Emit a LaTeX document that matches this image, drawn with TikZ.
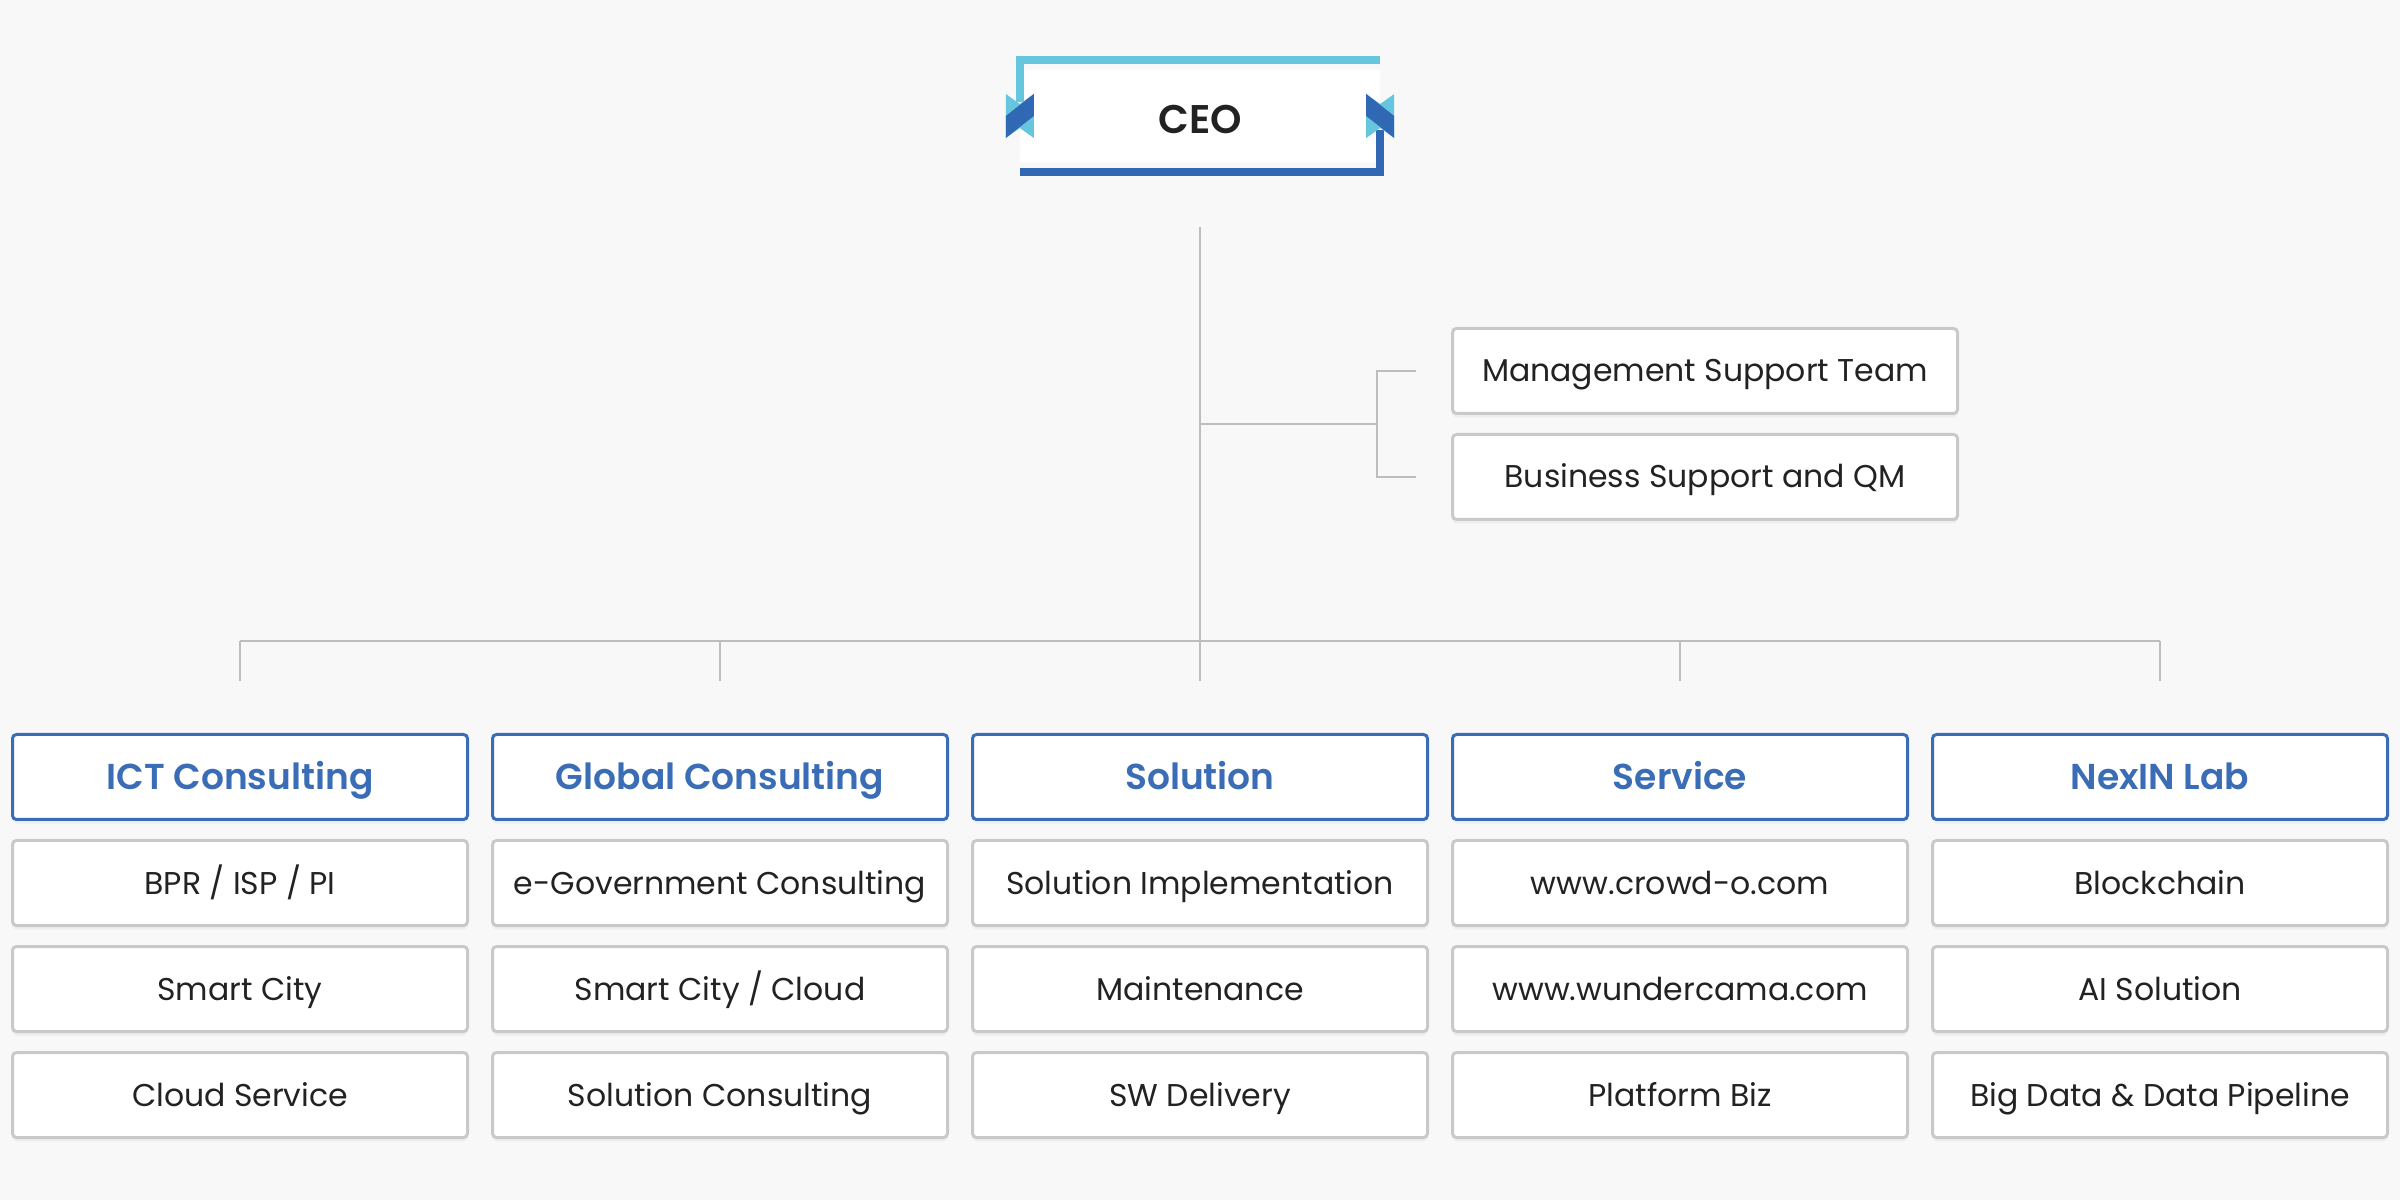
\documentclass[tikz,border=0pt]{standalone}
\usepackage{fontspec}
\setmainfont{Poppins}[BoldFont={* SemiBold}]
\usepackage{tikz}
\usetikzlibrary{positioning,calc,shadows}
\definecolor{bgcol}{HTML}{F8F8F8}
\definecolor{ceocyan}{HTML}{66C6DE}
\definecolor{ceoblue}{HTML}{3068B4}
\definecolor{deptblue}{HTML}{3A6DB5}
\definecolor{linegray}{HTML}{BDBDBD}
\definecolor{boxgray}{HTML}{C9C9C9}
\definecolor{txt}{HTML}{222222}

\begin{document}
\begin{tikzpicture}[
    x=1pt, y=1pt,
    node distance=18pt,
    ceobox/.style={fill=white, minimum width=360pt, minimum height=92pt, inner sep=0pt, text height=36pt, text depth=0pt, font=\fontsize{40}{46}\selectfont\bfseries, text=txt},
    dept/.style={draw=deptblue, fill=white, line width=3pt, rounded corners=4pt, minimum width=455pt, minimum height=85pt, inner sep=0pt, text height=25pt, text depth=0pt, font=\fontsize{36}{42}\selectfont\bfseries, text=deptblue, drop shadow={shadow xshift=0pt, shadow yshift=-4pt, opacity=.08}},
    unit/.style={draw=boxgray, fill=white, line width=3pt, rounded corners=4pt, minimum width=455pt, minimum height=85pt, inner sep=0pt, text height=22pt, text depth=0pt, font=\fontsize{31.5}{38}\selectfont, text=txt, drop shadow={shadow xshift=0pt, shadow yshift=-4pt, opacity=.08}},
    link/.style={draw=linegray, line width=2pt}
]
\useasboundingbox (0,0) rectangle (2400,1200);
\fill[bgcol] (0,0) rectangle (2400,1200);

% CEO with its frame
\node[ceobox] (ceo) at (1200,1084) {CEO};
\draw[ceocyan, line width=8pt] ([yshift=14pt]ceo.west) |- ([yshift=10pt]ceo.north east);
\draw[ceoblue, line width=8pt] ([yshift=-14pt]ceo.east) |- ([yshift=-10pt]ceo.south west);
\fill[ceocyan, shift={(ceo.west)}] (-14,22) -- (0,12) -- (14,22) -- (14,-22) -- (0,-12) -- (-14,-22) -- cycle;
\fill[ceoblue, shift={(ceo.west)}] (-14,0) -- (14,22) -- (14,0) -- (-14,-22) -- cycle;
\fill[ceocyan, shift={(ceo.east)}] (-14,22) -- (0,12) -- (14,22) -- (14,-22) -- (0,-12) -- (-14,-22) -- cycle;
\fill[ceoblue, shift={(ceo.east)}] (-14,22) -- (14,0) -- (14,-22) -- (-14,0) -- cycle;

% support staff
\node[unit, minimum width=505pt] (mst) at (1705,829) {Management Support Team};
\node[unit, minimum width=505pt, below=of mst] (bsq) {Business Support and QM};

% departments
\node[dept] (ict) at (240,423) {ICT Consulting};
\node[dept, right=22pt of ict] (glob) {Global Consulting};
\node[dept, right=22pt of glob] (sol) {Solution};
\node[dept, right=22pt of sol] (serv) {Service};
\node[dept, right=22pt of serv] (lab) {NexIN Lab};

\node[unit, below=of ict] (ict1) {BPR / ISP / PI};
\node[unit, below=of ict1] (ict2) {Smart City};
\node[unit, below=of ict2] (ict3) {Cloud Service};
\node[unit, below=of glob] (glob1) {e-Government Consulting};
\node[unit, below=of glob1] (glob2) {Smart City / Cloud};
\node[unit, below=of glob2] (glob3) {Solution Consulting};
\node[unit, below=of sol] (sol1) {Solution Implementation};
\node[unit, below=of sol1] (sol2) {Maintenance};
\node[unit, below=of sol2] (sol3) {SW Delivery};
\node[unit, below=of serv] (serv1) {www.crowd-o.com};
\node[unit, below=of serv1] (serv2) {www.wundercama.com};
\node[unit, below=of serv2] (serv3) {Platform Biz};
\node[unit, below=of lab] (lab1) {Blockchain};
\node[unit, below=of lab1] (lab2) {AI Solution};
\node[unit, below=of lab2] (lab3) {Big Data \& Data Pipeline};

% connectors
\coordinate[below=65pt of ceo] (trunk);
\coordinate (fork) at ($(mst.west)!0.5!(bsq.west)+(-74,0)$);
\draw[link] (trunk) -- ([yshift=52pt]sol.north);
\draw[link] (trunk |- fork) -- (fork);
\draw[link] ([xshift=-35pt]mst.west) -| (fork) |- ([xshift=-35pt]bsq.west);
\draw[link] ([yshift=92pt]ict.north) -- ([yshift=92pt]lab.north);
\foreach \d in {ict,glob,serv,lab}
  \draw[link] ([yshift=92pt]\d.north) -- ([yshift=52pt]\d.north);
\end{tikzpicture}
\end{document}
